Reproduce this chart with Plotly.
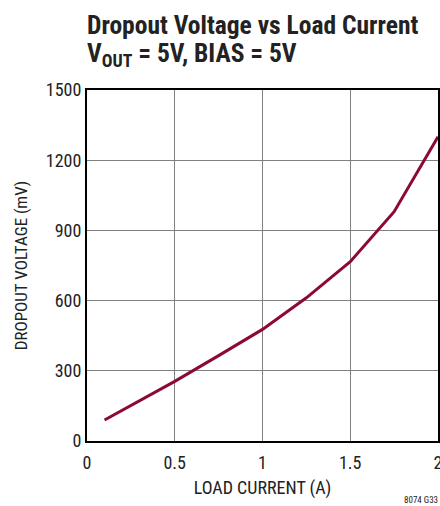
import plotly.graph_objects as go

load_current = [0.1, 0.25, 0.5, 0.75, 1.0, 1.25, 1.5, 1.75, 2.0]
dropout_mv = [90, 152, 255, 365, 477, 612, 766, 980, 1300]
x_ticks = [0, 0.5, 1, 1.5, 2]
x_ticklabels = ["0", "0.5", "1", "1.5", "2"]
y_ticks = [0, 300, 600, 900, 1200, 1500]

FONT = "Liberation Sans Narrow, Roboto Condensed, Arial Narrow, sans-serif"

L, R, T, B = 87, 2, 90, 65
W, H = 440, 506
plot_w = W - L - R
plot_h = H - T - B

def px_to_paper_x(px):
    return (px - L) / plot_w

def px_to_paper_y(py):
    return (H - B - py) / plot_h

fig = go.Figure()
fig.add_trace(go.Scatter(x=load_current, y=dropout_mv, mode="lines",
                         line=dict(color="#8c0a32", width=3), showlegend=False,
                         cliponaxis=True))

fig.update_layout(
    width=W, height=H,
    margin=dict(l=L, r=R, t=T, b=B, autoexpand=False),
    paper_bgcolor="white", plot_bgcolor="white",
    font=dict(family=FONT, color="#222", size=18),
    xaxis=dict(range=[0, 2], tickvals=x_ticks, ticktext=x_ticklabels,
               showgrid=True, gridcolor="#808080", gridwidth=1,
               showline=True, linecolor="black", linewidth=2, mirror=True,
               zeroline=False, ticks="", automargin=False,
               ticklabeloverflow="allow", ticklabelstandoff=4,
               tickfont=dict(size=18, family=FONT, color="#222"),
               title=dict(text="LOAD CURRENT (A)", font=dict(size=18, family=FONT, color="#222"),
                          standoff=10)),
    yaxis=dict(range=[0, 1500], tickvals=y_ticks,
               showgrid=True, gridcolor="#808080", gridwidth=1,
               showline=True, linecolor="black", linewidth=2, mirror=True,
               zeroline=False, ticks="", automargin=False,
               ticklabeloverflow="allow",
               tickfont=dict(size=18, family=FONT, color="#222"),
               title=dict(text="DROPOUT VOLTAGE (mV)", font=dict(size=17, family=FONT, color="#222"),
                          standoff=14)),
)

fig.add_annotation(text="<b>Dropout Voltage vs Load Current</b>", xref="paper", yref="paper",
                   x=px_to_paper_x(85), y=px_to_paper_y(25), xanchor="left", yanchor="middle",
                   showarrow=False, font=dict(family=FONT, size=25.5, color="#222"))
fig.add_annotation(text="<b>V<sub>OUT</sub> = 5V, BIAS = 5V</b>", xref="paper", yref="paper",
                   x=px_to_paper_x(85), y=px_to_paper_y(55), xanchor="left", yanchor="middle",
                   showarrow=False, font=dict(family=FONT, size=25.5, color="#222"))
fig.add_annotation(text="8074 G33", xref="paper", yref="paper",
                   x=px_to_paper_x(440), y=px_to_paper_y(500), xanchor="right", yanchor="middle",
                   showarrow=False, font=dict(family=FONT, size=9, color="#222"))

fig.write_html("out.html", config={"displayModeBar": False},
               post_script="document.body.style.margin='0';")
